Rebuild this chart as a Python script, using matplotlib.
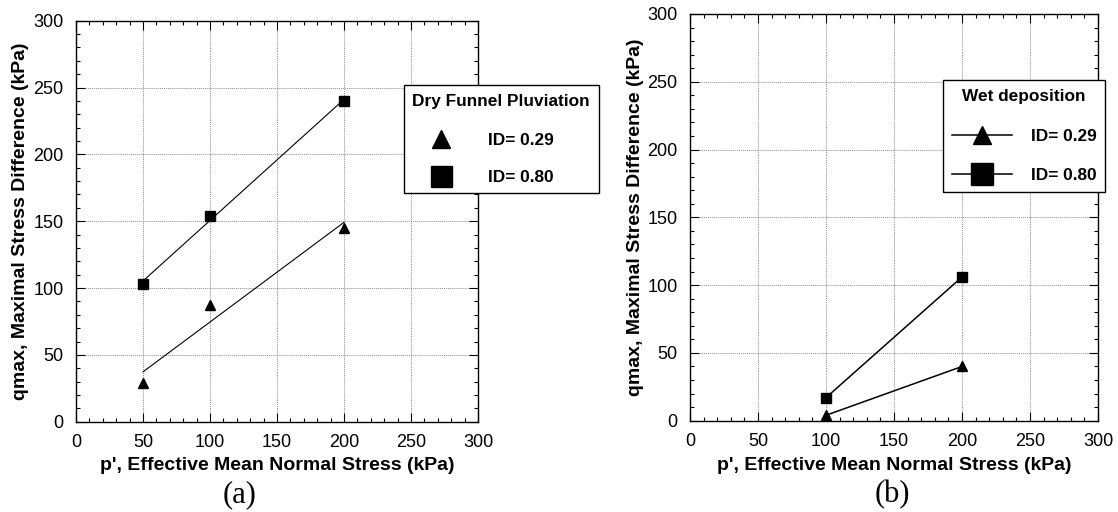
import numpy as np
import matplotlib
matplotlib.use("Agg")
import matplotlib.pyplot as plt
from matplotlib.ticker import MultipleLocator

plt.rcParams['font.family'] = ['Liberation Sans', 'DejaVu Sans']

# (a) Dry funnel pluviation
dry_p = [50, 100, 200]
dry_q_id029 = [29, 87, 145]
dry_q_id080 = [103, 154, 240]

# (b) Wet deposition
wet_p = [100, 200]
wet_q_id029 = [4, 40]
wet_q_id080 = [17, 106]

series_labels = ["ID= 0.29", "ID= 0.80"]
xlabel = "p', Effective Mean Normal Stress (kPa)"
ylabel = "qmax, Maximal Stress Difference (kPa)"

W, H = 1118, 512
LEG_FS = 12.4
fig = plt.figure(figsize=(W / 100, H / 100), dpi=100)


def px_rect(left, top, right, bottom):
    return [left / W, 1 - bottom / H, (right - left) / W, (bottom - top) / H]


def style_axes(ax):
    ax.set_xlim(0, 300)
    ax.set_ylim(0, 300)
    ax.xaxis.set_major_locator(MultipleLocator(50))
    ax.yaxis.set_major_locator(MultipleLocator(50))
    ax.xaxis.set_minor_locator(MultipleLocator(10))
    ax.yaxis.set_minor_locator(MultipleLocator(10))
    ax.tick_params(which='both', direction='in', top=True, right=True,
                   color='black', width=0.8)
    ax.tick_params(which='major', length=6.5, labelsize=13, pad=9)
    ax.tick_params(which='minor', length=3.2)
    ax.grid(True, which='major', color='#8c8c8c', linestyle=(0, (1, 1)),
            linewidth=0.7)
    for s in ax.spines.values():
        s.set_linewidth(1.0)
    ax.set_xlabel(xlabel, fontsize=14, fontweight='bold')
    ax.set_ylabel(ylabel, fontsize=14, fontweight='bold')


def legend_kw(anchor_px, spacing, align):
    return dict(loc='upper left',
                bbox_to_anchor=(anchor_px[0] / W, 1 - anchor_px[1] / H),
                bbox_transform=fig.transFigure, borderaxespad=0,
                fancybox=False, edgecolor='black', framealpha=1,
                markerscale=2.1, handletextpad=1.1, labelspacing=spacing,
                borderpad=0.5, alignment=align,
                prop={'weight': 'bold', 'size': LEG_FS},
                title_fontproperties={'weight': 'bold', 'size': LEG_FS})


# ---- panel (a)
ax1 = fig.add_axes(px_rect(76, 20.7, 478, 421.7))
style_axes(ax1)
ax1.xaxis.set_label_coords(0.5, (421.7 - 465) / 401)
ax1.xaxis.label.set_va('center')
ax1.yaxis.set_label_coords((21 - 76) / 402, 0.5)
ax1.yaxis.label.set_va('center')

# least-squares trend lines through each density series
xx = np.array([min(dry_p), max(dry_p)])
for q in (dry_q_id029, dry_q_id080):
    k, b = np.polyfit(dry_p, q, 1)
    ax1.plot(xx, k * xx + b, color='black', linewidth=0.8, zorder=3)
h1, = ax1.plot(dry_p, dry_q_id029, linestyle='none', marker='^', ms=6.5,
               color='black', zorder=4)
h2, = ax1.plot(dry_p, dry_q_id080, linestyle='none', marker='s', ms=7.2,
               color='black', zorder=4)
leg1 = ax1.legend([h1, h2], series_labels, title="Dry Funnel Pluviation",
                  handlelength=3.3, **legend_kw((403.7, 85), 1.25, 'left'))
leg1._legend_box.sep = 17.5          # gap between title and entries (pt)
leg1.get_frame().set_linewidth(1.0)
leg1.set_zorder(10)
fig.text(240 / W, 1 - 495 / H, "(a)", ha='center', va='center',
         fontsize=22, family='Liberation Serif')

# ---- panel (b)
ax2 = fig.add_axes(px_rect(690, 14, 1098, 420.7))
style_axes(ax2)
ax2.xaxis.set_label_coords(0.5, (420.7 - 465) / 406.7)
ax2.xaxis.label.set_va('center')
ax2.yaxis.set_label_coords((635 - 690) / 408, 0.5)
ax2.yaxis.label.set_va('center')

g1, = ax2.plot(wet_p, wet_q_id029, marker='^', ms=6.5, color='black',
               linewidth=1.1, zorder=4)
g2, = ax2.plot(wet_p, wet_q_id080, marker='s', ms=7.7, color='black',
               linewidth=1.1, zorder=4)
leg2 = ax2.legend([g1, g2], series_labels, title="Wet deposition",
                  handlelength=3.5, **legend_kw((943, 80), 1.38, 'center'))
leg2._legend_box.sep = 18.5
leg2.get_frame().set_linewidth(1.0)
leg2.set_zorder(10)
fig.text(892 / W, 1 - 495 / H, "(b)", ha='center', va='center',
         fontsize=22, family='Liberation Serif')

fig.savefig("out.png", dpi=100, facecolor='white')
